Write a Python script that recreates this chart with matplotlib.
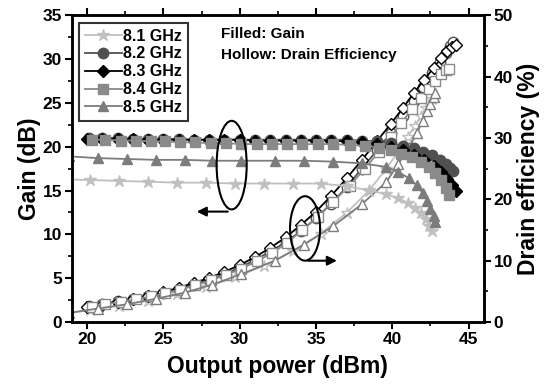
import matplotlib
matplotlib.use('Agg')
import matplotlib.pyplot as plt
from matplotlib.patches import Ellipse
from matplotlib.ticker import MultipleLocator

plt.rcParams['font.family'] = ['Liberation Sans', 'DejaVu Sans']
plt.rcParams['font.weight'] = 'bold'

# data
freqs = ['8.1 GHz', '8.2 GHz', '8.3 GHz', '8.4 GHz', '8.5 GHz']

pout_81 = [18.3, 20.2, 22.1, 24.0, 25.9, 27.8, 29.7, 31.6, 33.5, 35.3, 37.0, 38.5, 39.6, 40.4, 41.0, 41.5, 41.9, 42.2, 42.4, 42.6]
gain_81 = [16.3, 16.2, 16.1, 16.0, 15.9, 15.9, 15.8, 15.8, 15.8, 15.8, 15.5, 15.0, 14.6, 14.1, 13.6, 13.0, 12.4, 11.7, 11.0, 10.4]
eff_81 = [1.2, 2.0, 2.7, 3.5, 4.5, 5.7, 7.3, 9.2, 11.6, 14.4, 17.8, 21.5, 25.0, 27.8, 30.2, 32.0, 33.6, 34.8, 35.7, 36.4]

pout_82 = [20.1, 21.0, 22.0, 23.0, 24.0, 25.0, 26.0, 27.0, 28.0, 29.0, 30.0, 31.0, 32.0, 33.0, 34.0, 35.0, 36.0, 37.0, 38.0, 39.0, 39.9, 40.7, 41.4, 42.0, 42.6, 43.1, 43.5, 43.8, 44.0]
gain_82 = [21.0, 21.0, 21.0, 20.9, 20.9, 20.9, 20.9, 20.8, 20.8, 20.8, 20.8, 20.8, 20.8, 20.8, 20.8, 20.8, 20.8, 20.8, 20.7, 20.6, 20.4, 20.1, 19.8, 19.4, 19.0, 18.5, 18.0, 17.6, 17.2]
eff_82 = [2.6, 3.0, 3.4, 3.8, 4.3, 4.8, 5.4, 6.1, 6.9, 7.8, 8.9, 10.1, 11.5, 13.0, 14.8, 16.9, 19.3, 22.0, 25.0, 28.0, 30.8, 33.5, 36.0, 38.3, 40.5, 42.3, 43.8, 44.9, 45.7]

pout_83 = [20.0, 21.0, 22.0, 23.0, 24.0, 25.0, 26.0, 27.0, 28.0, 29.0, 30.0, 31.0, 32.0, 33.0, 34.0, 35.0, 36.0, 37.0, 38.0, 39.0, 39.9, 40.7, 41.4, 42.1, 42.7, 43.2, 43.6, 43.9, 44.2]
gain_83 = [20.9, 20.9, 20.9, 20.9, 20.8, 20.8, 20.8, 20.8, 20.8, 20.8, 20.8, 20.7, 20.7, 20.7, 20.7, 20.7, 20.7, 20.6, 20.5, 20.3, 20.0, 19.6, 19.1, 18.5, 17.8, 17.1, 16.3, 15.6, 14.9]
eff_83 = [2.4, 2.8, 3.3, 3.8, 4.3, 4.9, 5.6, 6.4, 7.2, 8.2, 9.3, 10.6, 12.1, 13.8, 15.8, 18.0, 20.6, 23.4, 26.4, 29.5, 32.3, 34.9, 37.3, 39.5, 41.4, 43.0, 44.1, 44.8, 45.2]

pout_84 = [20.3, 21.2, 22.2, 23.2, 24.2, 25.1, 26.1, 27.1, 28.1, 29.1, 30.1, 31.1, 32.1, 33.1, 34.1, 35.1, 36.1, 37.2, 38.2, 39.1, 39.9, 40.6, 41.3, 41.9, 42.4, 42.8, 43.2, 43.5, 43.7]
gain_84 = [20.8, 20.8, 20.7, 20.7, 20.6, 20.6, 20.5, 20.5, 20.4, 20.4, 20.3, 20.3, 20.3, 20.3, 20.3, 20.3, 20.3, 20.2, 20.1, 19.9, 19.6, 19.2, 18.8, 18.3, 17.7, 17.0, 16.2, 15.3, 14.5]
eff_84 = [2.5, 2.9, 3.3, 3.7, 4.2, 4.7, 5.3, 6.0, 6.8, 7.7, 8.7, 9.9, 11.2, 12.9, 15.0, 17.2, 19.6, 22.2, 25.0, 27.7, 30.2, 32.5, 34.7, 36.5, 38.0, 39.3, 40.4, 41.0, 41.3]

pout_85 = [18.8, 20.7, 22.6, 24.5, 26.4, 28.2, 30.1, 32.3, 34.2, 36.1, 38.0, 39.6, 40.4, 41.1, 41.6, 42.0, 42.3, 42.5, 42.7, 42.8]
gain_85 = [18.9, 18.7, 18.6, 18.5, 18.5, 18.4, 18.4, 18.4, 18.4, 18.3, 18.1, 17.7, 17.1, 16.4, 15.6, 14.7, 13.8, 12.9, 12.1, 11.4]
eff_85 = [1.5, 2.2, 2.9, 3.8, 4.8, 6.1, 7.8, 10.0, 12.6, 15.6, 19.2, 22.8, 25.8, 28.5, 30.8, 32.8, 34.4, 35.6, 36.6, 37.4]

pouts = [pout_81, pout_82, pout_83, pout_84, pout_85]
gains = [gain_81, gain_82, gain_83, gain_84, gain_85]
effs = [eff_81, eff_82, eff_83, eff_84, eff_85]
colors = ['#c0c0c0', '#505050', '#000000', '#8a8a8a', '#7c7c7c']
markers = ['*', 'o', 'D', 's', '^']
msizes = [9, 7.5, 6.5, 6.5, 7.5]

fig = plt.figure(figsize=(5.53, 3.89), dpi=100)
ax = fig.add_axes([0.130, 0.172, 0.745, 0.789])
ax2 = ax.twinx()

# efficiency (hollow) first so gain markers stay visible
for p, e, c, m, s in zip(pouts, effs, colors, markers, msizes):
    ax2.plot(p, e, color=c, marker=m, ms=s, mfc='white', mec=c, mew=1.0, lw=1.3)

for p, g, c, m, s, f in zip(pouts, gains, colors, markers, msizes, freqs):
    ax.plot(p, g, color=c, marker=m, ms=s, mfc=c, mec=c, lw=1.3, label=f)

ax.set_zorder(ax2.get_zorder() + 1)
ax.patch.set_visible(False)

ax.set_xlim(19, 46)
ax.set_ylim(0, 35)
ax2.set_ylim(0, 50)

ax.xaxis.set_major_locator(MultipleLocator(5))
ax.xaxis.set_minor_locator(MultipleLocator(2.5))
ax.yaxis.set_major_locator(MultipleLocator(5))
ax.yaxis.set_minor_locator(MultipleLocator(2.5))
ax2.yaxis.set_major_locator(MultipleLocator(10))
ax2.yaxis.set_minor_locator(MultipleLocator(5))

ax.tick_params(axis='both', which='major', direction='out', length=5, width=1.5, labelsize=12.5, pad=2)
ax.tick_params(axis='both', which='minor', direction='out', length=3, width=1.2)
ax.tick_params(axis='x', which='both', top=True)
ax2.tick_params(axis='y', which='major', direction='out', length=5, width=1.5, labelsize=12.5, pad=2)
ax2.tick_params(axis='y', which='minor', direction='out', length=3, width=1.2)
for t in ax.get_xticklabels() + ax.get_yticklabels() + ax2.get_yticklabels():
    t.set_fontweight('bold')

for a in (ax, ax2):
    for sp in a.spines.values():
        sp.set_linewidth(1.8)

ax.set_xlabel('Output power (dBm)', fontsize=16.5, fontweight='bold', labelpad=6)
ax.set_ylabel('Gain (dB)', fontsize=16.5, fontweight='bold', labelpad=1)
ax2.set_ylabel('Drain efficiency (%)', fontsize=16.5, fontweight='bold', labelpad=3)

leg = ax.legend(loc='upper left', bbox_to_anchor=(0.01, 0.985), fontsize=11.5,
                frameon=True, fancybox=False, edgecolor='black', handlelength=2.3,
                handletextpad=0.1, labelspacing=0.18, borderpad=0.35, borderaxespad=0.2)
leg.get_frame().set_linewidth(1.5)
for t in leg.get_texts():
    t.set_fontweight('bold')

ax.text(28.75, 32.8, 'Filled: Gain', fontsize=11, fontweight='bold', va='center')
ax.text(28.75, 30.5, 'Hollow: Drain Efficiency', fontsize=11, fontweight='bold', va='center')

# annotation ellipses and arrows
ax.add_patch(Ellipse((29.47, 17.9), 1.97, 10.1, fill=False, lw=1.5, ec='black', zorder=10))
ax.annotate('', xy=(27.0, 12.6), xytext=(29.4, 12.6),
            arrowprops=dict(arrowstyle='-|>', color='black', lw=1.5, mutation_scale=14), zorder=10)
ax.add_patch(Ellipse((34.28, 10.68), 1.97, 7.35, fill=False, lw=1.5, ec='black', zorder=10))
ax.annotate('', xy=(36.55, 7.0), xytext=(34.3, 7.0),
            arrowprops=dict(arrowstyle='-|>', color='black', lw=1.5, mutation_scale=14), zorder=10)

plt.savefig('out.png', dpi=100)
